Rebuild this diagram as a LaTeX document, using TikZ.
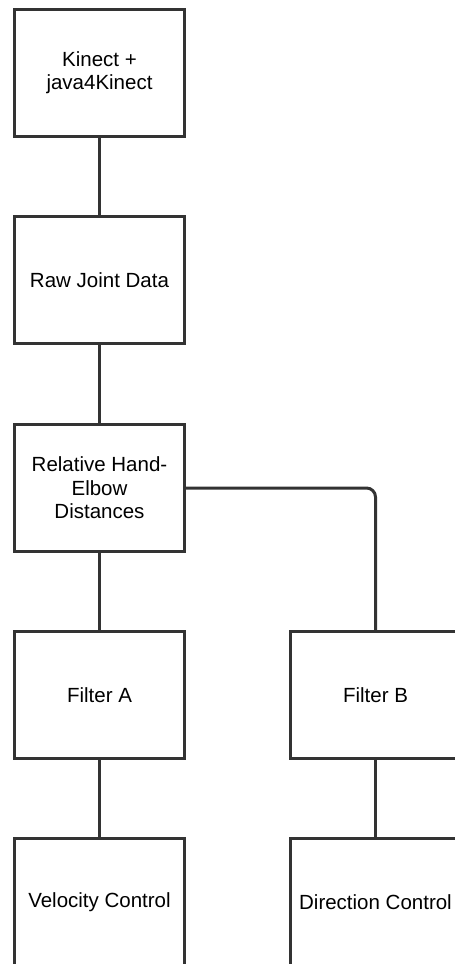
\documentclass[tikz,border=0pt]{standalone}
\usepackage{fontspec}
\setmainfont{Liberation Sans}
\usepackage{tikz}
\definecolor{boxline}{HTML}{333333}

\begin{document}
\begin{tikzpicture}[x=1pt, y=-1pt,
  block/.style={draw=boxline, line width=3pt, fill=white,
    minimum width=170pt, minimum height=127pt, inner sep=0pt,
    align=center, font=\fontsize{20.5}{23.5}\selectfont},
  link/.style={draw=boxline, line width=3pt}]
  \useasboundingbox (0,0) rectangle (455,964);
  \clip (0,0) rectangle (455,964);
  % left column
  \node[block] (kinect) at (99.5,72.5) {Kinect +\\java4Kinect};
  \node[block] (raw) at (99.5,280) {Raw Joint Data};
  \node[block] (dist) at (99.5,488) {Relative Hand-\\Elbow\\Distances};
  \node[block] (filta) at (99.5,695) {Filter A};
  \node[block] (velo) at (99.5,902) {Velocity Control};
  % right column
  \node[block] (filtb) at (375.5,695) {Filter B};
  \node[block] (dir) at (375.5,902) {Direction Control};
  % connectors
  \draw[link] (kinect) -- (raw);
  \draw[link] (raw) -- (dist);
  \draw[link] (dist) -- (filta);
  \draw[link] (filta) -- (velo);
  \draw[link, rounded corners=9pt] (dist.east) -- (dist.east -| filtb.north) -- (filtb.north);
  \draw[link] (filtb) -- (dir);
\end{tikzpicture}
\end{document}
